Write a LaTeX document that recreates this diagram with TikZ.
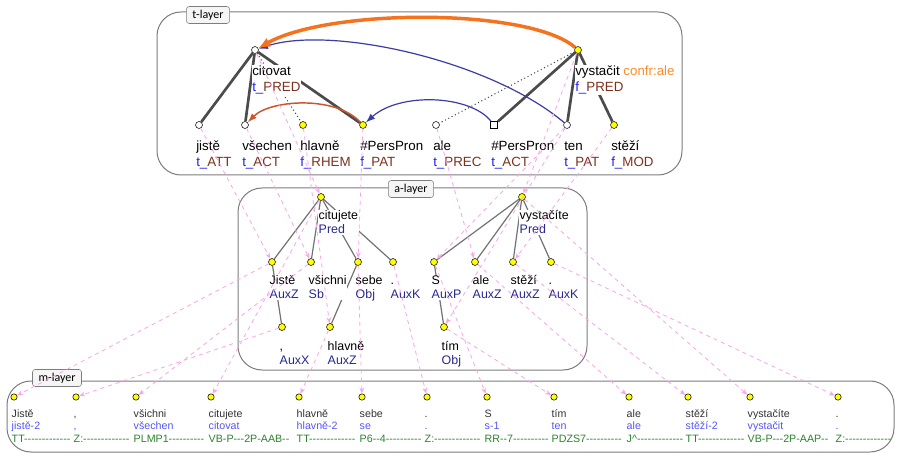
\documentclass[tikz,border=0pt]{standalone}
\usepackage{fontspec}
\setmainfont{Liberation Sans}[Ligatures=TeXOff]
\newfontfamily\tagfont{Carlito}
\usetikzlibrary{arrows.meta}

\definecolor{giallo}{RGB}{255,255,0}
\definecolor{tblu}{RGB}{30,30,245}
\definecolor{funct}{RGB}{125,50,30}
\definecolor{afun}{RGB}{40,40,145}
\definecolor{lemma}{RGB}{85,85,250}
\definecolor{tagcol}{RGB}{45,130,45}
\definecolor{arancio}{RGB}{245,115,30}
\definecolor{confr}{RGB}{255,140,40}
\definecolor{corblu}{RGB}{60,60,165}
\definecolor{corross}{RGB}{205,85,45}
\definecolor{rosa}{RGB}{248,165,235}
\definecolor{bordo}{RGB}{125,125,125}
\definecolor{ramocol}{RGB}{75,75,75}
\definecolor{aramocol}{RGB}{115,115,115}

\newcommand{\funtore}[2]{{\color{tblu}#1\_}{\color{funct}#2}}

\begin{document}
\begin{tikzpicture}[x=0.75pt,y=-0.75pt,
  tn/.style={circle,draw,fill=white,inner sep=0pt,minimum size=5.2pt},
  tg/.style={tn,fill=giallo},
  tq/.style={rectangle,draw,fill=white,inner sep=0pt,minimum size=5.6pt},
  an/.style={tg},
  mn/.style={tg,minimum size=4.8pt},
  tl/.style={anchor=base west,xshift=-2.75pt,yshift=-31.3pt,align=left,fill=white,inner sep=0.5pt,font=\fontsize{10}{12}\selectfont},
  al/.style={anchor=base west,xshift=-2.4pt,yshift=-27.75pt,align=left,fill=white,inner sep=0.5pt,font=\fontsize{9.3}{10.5}\selectfont},
  ml/.style={anchor=base west,xshift=-2.4pt,yshift=-33.8pt,align=left,inner sep=0.5pt,font=\fontsize{8}{9.4}\selectfont,text=black!80},
  ramo/.style={draw=ramocol,line width=2pt},
  aramo/.style={draw=aramocol,line width=0.9pt},
  punt/.style={draw=ramocol,dotted,line width=0.8pt},
  allinea/.style={draw=rosa,dashed,line width=0.6pt,-{Stealth[length=4.5pt,width=3.5pt]}},
  discorso/.style={draw=arancio,line width=2.6pt,-{Latex[length=9pt,width=7.5pt]}},
  corefT/.style={draw=corblu,line width=0.9pt,-{Latex[length=7pt,width=5pt]}},
  corefG/.style={draw=corross,line width=1.1pt,-{Latex[length=7pt,width=5pt]}},
  livello/.style={draw=bordo,line width=0.75pt,rounded corners=18pt},
  etich/.style={draw=bordo,fill=gray!8,rounded corners=2pt,inner xsep=4.5pt,inner ysep=0pt,minimum height=12.75pt,font=\tagfont\fontsize{9}{10}\selectfont}]
  \path[use as bounding box,fill=white] (0,0) rectangle (902,459);

  % livelli
  \draw[livello] (157,12) rectangle (682,175);
  \draw[livello] (238,188) rectangle (587,370);
  \draw[livello] (7,381) rectangle (894,452);
  \node[etich] (tLayer) at (208,15) {t-layer};
  \node[etich] (aLayer) at (411,189) {a-layer};
  \node[etich] (mLayer) at (57,378) {m-layer};

  % nodi t
  \node[tn] (tCitovat) at (255,50) {};
  \node[tg] (tVystacit) at (578,50) {};
  \node[tn] (tJiste) at (199,125) {};
  \node[tn] (tVsechen) at (245,125) {};
  \node[tg] (tHlavne) at (303,125) {};
  \node[tg] (tPersPron) at (363,125) {};
  \node[tn] (tAle) at (436,125) {};
  \node[tq] (tPersPronB) at (494,125) {};
  \node[tn] (tTen) at (567,125) {};
  \node[tg] (tStezi) at (614,125) {};

  % rami t
  \draw[ramo] (tCitovat) -- (tJiste);
  \draw[ramo] (tCitovat) -- (tVsechen);
  \draw[ramo] (tCitovat) -- (tPersPron);
  \draw[punt] (tCitovat) -- (tHlavne);
  \draw[ramo] (tVystacit) -- (tPersPronB);
  \draw[ramo] (tVystacit) -- (tTen);
  \draw[ramo] (tVystacit) -- (tStezi);
  \draw[punt] (tVystacit) -- (tAle);

  % etichette t
  \node[tl] (tCitovatL) at (tCitovat) {citovat\\\funtore{t}{PRED}};
  \node[tl] (tVystacitL) at (tVystacit) {vystačit {\color{confr}confr:ale}\\\funtore{f}{PRED}};
  \node[tl] (tJisteL) at (tJiste) {jistě\\\funtore{t}{ATT}};
  \node[tl] (tVsechenL) at (tVsechen) {všechen\\\funtore{t}{ACT}};
  \node[tl] (tHlavneL) at (tHlavne) {hlavně\\\funtore{f}{RHEM}};
  \node[tl] (tPersPronL) at (tPersPron) {\#PersPron\\\funtore{f}{PAT}};
  \node[tl] (tAleL) at (tAle) {ale\\\funtore{t}{PREC}};
  \node[tl] (tPersPronBL) at (tPersPronB) {\#PersPron\\\funtore{t}{ACT}};
  \node[tl] (tTenL) at (tTen) {ten\\\funtore{t}{PAT}};
  \node[tl] (tSteziL) at (tStezi) {stěží\\\funtore{f}{MOD}};

  % nodi a
  \node[an] (aCitujete) at (321,197) {};
  \node[an] (aVystacite) at (522,197) {};
  \node[an] (aJiste) at (272,262) {};
  \node[an] (aVsichni) at (311,262) {};
  \node[an] (aSebe) at (358,262) {};
  \node[an] (aTecka) at (393,262) {};
  \node[an] (aS) at (434,262) {};
  \node[an] (aAle) at (475,262) {};
  \node[an] (aStezi) at (513,262) {};
  \node[an] (aTeckaB) at (551,262) {};
  \node[an] (aCarka) at (282,327) {};
  \node[an] (aHlavne) at (330,327) {};
  \node[an] (aTim) at (444,327) {};

  % rami a
  \draw[aramo] (aCitujete) -- (aJiste);
  \draw[aramo] (aCitujete) -- (aVsichni);
  \draw[aramo] (aCitujete) -- (aSebe);
  \draw[aramo] (aCitujete) -- (aTecka);
  \draw[aramo] (aJiste) -- (aCarka);
  \draw[aramo] (aSebe) -- (aHlavne);
  \draw[aramo] (aVystacite) -- (aS);
  \draw[aramo] (aVystacite) -- (aAle);
  \draw[aramo] (aVystacite) -- (aStezi);
  \draw[aramo] (aVystacite) -- (aTeckaB);
  \draw[aramo] (aS) -- (aTim);

  % etichette a
  \node[al] (aCitujeteL) at (aCitujete) {citujete\\\textcolor{afun}{Pred}};
  \node[al] (aVystaciteL) at (aVystacite) {vystačíte\\\textcolor{afun}{Pred}};
  \node[al] (aJisteL) at (aJiste) {Jistě\\\textcolor{afun}{AuxZ}};
  \node[al] (aVsichniL) at (aVsichni) {všichni\\\textcolor{afun}{Sb}};
  \node[al] (aSebeL) at (aSebe) {sebe\\\textcolor{afun}{Obj}};
  \node[al] (aTeckaL) at (aTecka) {.\\\textcolor{afun}{AuxK}};
  \node[al] (aSL) at (aS) {S\\\textcolor{afun}{AuxP}};
  \node[al] (aAleL) at (aAle) {ale\\\textcolor{afun}{AuxZ}};
  \node[al] (aSteziL) at (aStezi) {stěží\\\textcolor{afun}{AuxZ}};
  \node[al] (aTeckaBL) at (aTeckaB) {.\\\textcolor{afun}{AuxK}};
  \node[al] (aCarkaL) at (aCarka) {,\\\textcolor{afun}{AuxX}};
  \node[al] (aHlavneL) at (aHlavne) {hlavně\\\textcolor{afun}{AuxZ}};
  \node[al] (aTimL) at (aTim) {tím\\\textcolor{afun}{Obj}};

  % nodi m
  \node[mn] (mJiste) at (14,397) {};
  \node[mn] (mCarka) at (76,397) {};
  \node[mn] (mVsichni) at (136,397) {};
  \node[mn] (mCitujete) at (211,397) {};
  \node[mn] (mHlavne) at (299,397) {};
  \node[mn] (mSebe) at (362,397) {};
  \node[mn] (mTecka) at (427,397) {};
  \node[mn] (mS) at (487,397) {};
  \node[mn] (mTim) at (554,397) {};
  \node[mn] (mAle) at (629,397) {};
  \node[mn] (mStezi) at (688,397) {};
  \node[mn] (mVystacite) at (750,397) {};
  \node[mn] (mTeckaB) at (838,397) {};

  % etichette m
  \node[ml] (mJisteL) at (mJiste) {Jistě\\\textcolor{lemma}{jistě-2}\\\textcolor{tagcol}{TT-------------}};
  \node[ml] (mCarkaL) at (mCarka) {,\\\textcolor{lemma}{,}\\\textcolor{tagcol}{Z:-------------}};
  \node[ml] (mVsichniL) at (mVsichni) {všichni\\\textcolor{lemma}{všechen}\\\textcolor{tagcol}{PLMP1----------}};
  \node[ml] (mCitujeteL) at (mCitujete) {citujete\\\textcolor{lemma}{citovat}\\\textcolor{tagcol}{VB-P---2P-AAB--}};
  \node[ml] (mHlavneL) at (mHlavne) {hlavně\\\textcolor{lemma}{hlavně-2}\\\textcolor{tagcol}{TT-------------}};
  \node[ml] (mSebeL) at (mSebe) {sebe\\\textcolor{lemma}{se}\\\textcolor{tagcol}{P6--4----------}};
  \node[ml] (mTeckaL) at (mTecka) {.\\\textcolor{lemma}{.}\\\textcolor{tagcol}{Z:-------------}};
  \node[ml] (mSL) at (mS) {S\\\textcolor{lemma}{s-1}\\\textcolor{tagcol}{RR--7----------}};
  \node[ml] (mTimL) at (mTim) {tím\\\textcolor{lemma}{ten}\\\textcolor{tagcol}{PDZS7----------}};
  \node[ml] (mAleL) at (mAle) {ale\\\textcolor{lemma}{ale}\\\textcolor{tagcol}{J\textasciicircum-------------}};
  \node[ml] (mSteziL) at (mStezi) {stěží\\\textcolor{lemma}{stěží-2}\\\textcolor{tagcol}{TT-------------}};
  \node[ml] (mVystaciteL) at (mVystacite) {vystačíte\\\textcolor{lemma}{vystačit}\\\textcolor{tagcol}{VB-P---2P-AAP--}};
  \node[ml] (mTeckaBL) at (mTeckaB) {.\\\textcolor{lemma}{.}\\\textcolor{tagcol}{Z:-------------}};

  % coreferenza e discorso
  \draw[corefG] (tPersPron) .. controls (335,95) and (270,100) .. (tVsechen);
  \draw[corefT] (tPersPronB) .. controls (470,95) and (400,92) .. (tPersPron);
  \draw[corefT] (tTen) .. controls (490,60) and (330,25) .. (tCitovat);
  \draw[discorso] (tVystacit) .. controls (530,8) and (330,8) .. (tCitovat);

  % allineamenti t -> a
  \draw[allinea] (tCitovat) -- (aCitujete);
  \draw[allinea] (tJiste) -- (aJiste);
  \draw[allinea] (tVsechen) -- (aVsichni);
  \draw[allinea] (tHlavne) -- (aHlavne);
  \draw[allinea] (tPersPron) -- (aSebe);
  \draw[allinea] (tAle) -- (aAle);
  \draw[allinea] (tTen) -- (aS);
  \draw[allinea] (tTen) -- (aTim);
  \draw[allinea] (tStezi) -- (aStezi);
  \draw[allinea] (tVystacit) -- (aVystacite);

  % allineamenti a -> m
  \draw[allinea] (aJiste) -- (mJiste);
  \draw[allinea] (aCarka) -- (mCarka);
  \draw[allinea] (aVsichni) -- (mVsichni);
  \draw[allinea] (aCitujete) -- (mCitujete);
  \draw[allinea] (aHlavne) -- (mHlavne);
  \draw[allinea] (aSebe) -- (mSebe);
  \draw[allinea] (aTecka) -- (mTecka);
  \draw[allinea] (aS) -- (mS);
  \draw[allinea] (aTim) -- (mTim);
  \draw[allinea] (aAle) -- (mAle);
  \draw[allinea] (aStezi) -- (mStezi);
  \draw[allinea] (aVystacite) -- (mVystacite);
  \draw[allinea] (aTeckaB) -- (mTeckaB);
\end{tikzpicture}
\end{document}
